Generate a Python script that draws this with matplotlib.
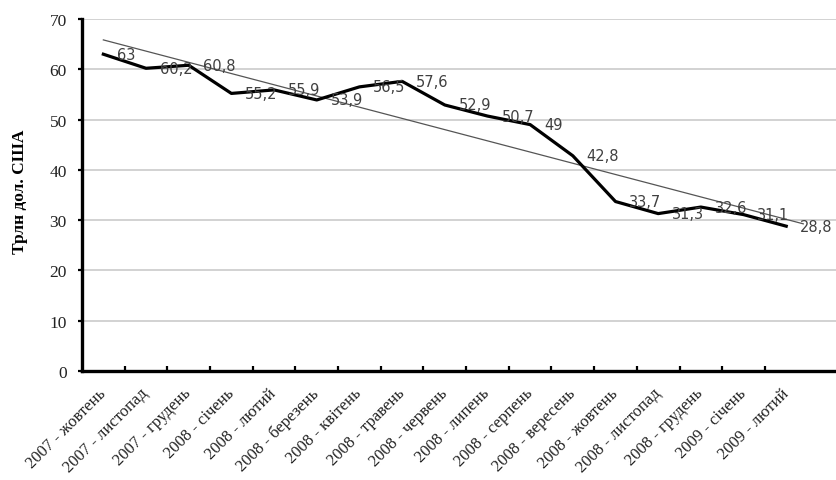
import numpy as np
import matplotlib
matplotlib.use("Agg")
import matplotlib.pyplot as plt

categories = ["2007 - жовтень", "2007 - листопад", "2007 - грудень", "2008 - січень",
              "2008 - лютий", "2008 - березень", "2008 - квітень", "2008 - травень",
              "2008 - червень", "2008 - липень", "2008 - серпень", "2008 - вересень",
              "2008 - жовтень", "2008 - листопад", "2008 - грудень", "2009 - січень",
              "2009 - лютий"]
values = [63, 60.2, 60.8, 55.2, 55.9, 53.9, 56.5, 57.6, 52.9, 50.7, 49, 42.8,
          33.7, 31.3, 32.6, 31.1, 28.8]
yticks = [0, 10, 20, 30, 40, 50, 60, 70]
ylabel = "Трлн дол. США"

fig = plt.figure(figsize=(8.37, 4.81), dpi=100)
ax = fig.add_axes([82/837, 1-372/481, 1-82/837, 352/481])

x = np.arange(len(values))
# linear trend line (least squares) from the data
k, b = np.polyfit(x, values, 1)
xt = np.array([0, len(values) - 1 + 0.4])
ax.plot(xt, k*xt + b, color="#555555", lw=0.9, zorder=2)

ax.plot(x, values, color="black", lw=2.3, solid_joinstyle="round", zorder=3)

for xi, v in zip(x, values):
    s = ("%g" % v).replace(".", ",")
    ax.annotate(s, (xi, v), xytext=(10, 0), textcoords="offset points",
                ha="left", va="center", fontsize=10.5, color="#404040",
                family="DejaVu Sans", zorder=4)

ax.set_xlim(-0.5, (837-103)/42.7)
ax.set_ylim(0, 70)
ax.set_yticks(yticks)
ax.set_yticklabels([str(t) for t in yticks], family="Liberation Serif", fontsize=12.5,
                   color="#222222")
ax.yaxis.grid(True, color="#cfcfcf", lw=1.3)
ax.set_axisbelow(True)

ax.set_xticks(x)
ax.set_xticklabels(categories, rotation=45, ha="right", va="center",
                   rotation_mode="anchor", family="Liberation Serif", fontsize=12,
                   color="#222222")
ax.tick_params(axis="x", length=0, pad=14)
ax.set_xticks(np.arange(len(values) - 1) + 0.5, minor=True)
ax.tick_params(axis="x", which="minor", direction="in", length=3.5, width=1.6, color="black")
ax.tick_params(axis="y", direction="out", length=3, width=1.6, pad=8)

for s in ["top", "right"]:
    ax.spines[s].set_visible(False)
ax.spines["left"].set_linewidth(2.4)
ax.spines["bottom"].set_linewidth(2.4)

fig.text(20/837, 1-192/481, ylabel, rotation=90, ha="center", va="center",
         family="Liberation Serif", fontweight="bold", fontsize=12.5)

fig.savefig("out.png", dpi=100)
